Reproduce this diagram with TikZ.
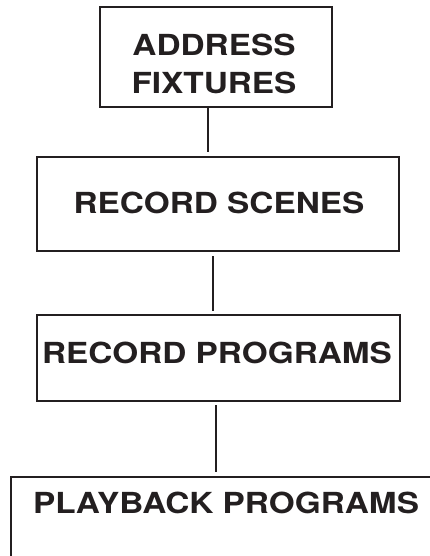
\documentclass[tikz,border=0pt]{standalone}
\usepackage{fontspec}
\setmainfont{TeX Gyre Heros}
\definecolor{ink}{RGB}{35,31,32}
\newcommand\wtxt[1]{\scalebox{1.15}[1]{#1}}
\begin{document}
\begin{tikzpicture}[x=1pt,y=-1pt, line width=2pt,
  box/.style={draw=ink, rectangle, inner sep=0pt},
  lbl/.style={text=ink, inner sep=0pt, align=center, font=\bfseries\fontsize{29}{38}\selectfont},
  link/.style={draw=ink, line width=2pt}]
\useasboundingbox (0,0) rectangle (430,556);
\node[box, minimum width=232pt, minimum height=100pt] (b1) at (216,57) {};
\node[box, minimum width=362pt, minimum height=94pt] (b2) at (218,204) {};
\node[box, minimum width=363pt, minimum height=86pt] (b3) at (218.5,358) {};
\node[box, minimum width=430pt, minimum height=158pt] (b4) at (226,556) {};
\node[lbl] (t1) at (214,64) {\wtxt{ADDRESS}\\\wtxt{FIXTURES}};
\node[lbl] (t2) at (219,203) {\wtxt{RECORD SCENES}};
\node[lbl] (t3) at (217,353) {\wtxt{RECORD PROGRAMS}};
\node[lbl] (t4) at (226,503) {\wtxt{PLAYBACK PROGRAMS}};
\draw[link, shorten >=4pt] ([xshift=-8pt]b1.south) -- ([xshift=-8pt]b1.south |- b2.north);
\draw[link, shorten <=4pt, shorten >=3pt] ([xshift=-5pt]b2.south) -- ([xshift=-5pt]b2.south |- b3.north);
\draw[link, shorten <=3pt, shorten >=4pt] ([xshift=-2.5pt]b3.south) -- ([xshift=-2.5pt]b3.south |- b4.north);
\end{tikzpicture}
\end{document}
